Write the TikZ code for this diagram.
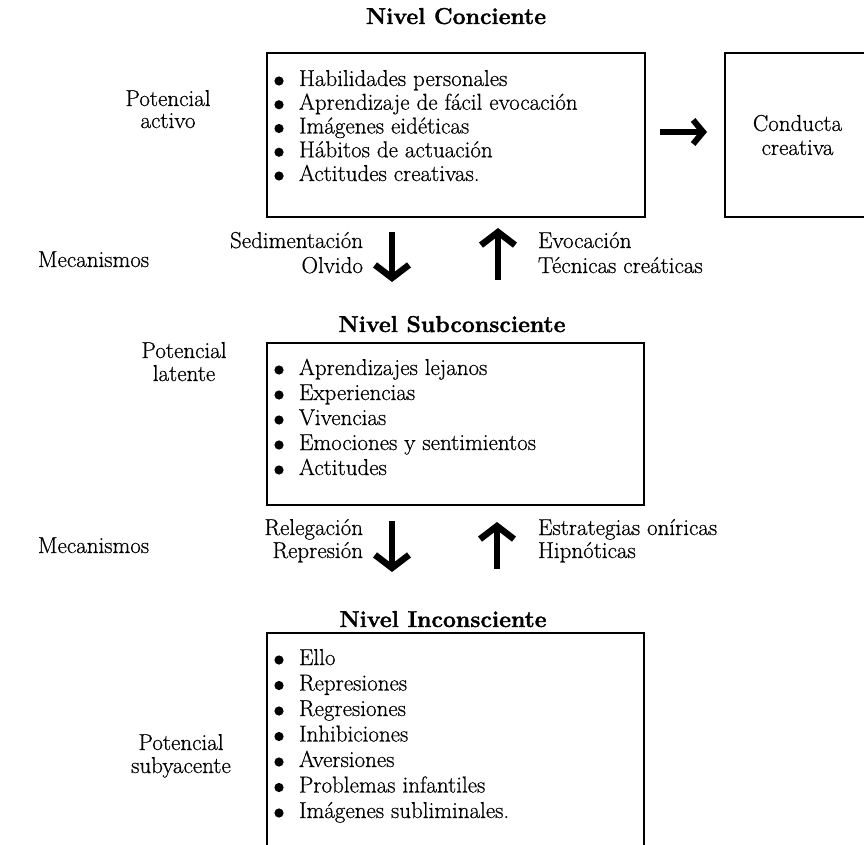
\documentclass[tikz,border=0pt]{standalone}
\usepackage{fontspec}
\setmainfont{Latin Modern Roman}[UprightFeatures={FakeBold=0.6}, BoldFeatures={FakeBold=1.4}]
\usetikzlibrary{arrows.meta}
\begin{document}
\begin{tikzpicture}[x=1pt, y=-1pt,
  every node/.style={inner sep=0pt, outer sep=0pt, font=\fontsize{23}{24}\selectfont},
  panel/.style={draw, line width=2.6pt, anchor=north west},
  level/.style={font=\fontsize{23}{24}\selectfont\bfseries, anchor=base},
  item/.style={anchor=base west},
  side/.style={anchor=base},
  bigarrow/.style={line width=6.5pt, -{Straight Barb[length=13pt, width=34pt]}},
  dot/.style={radius=4.6pt}
]
\clip (0,0) rectangle (864,845);
\fill[white] (0,0) rectangle (864,845);

% ---- Nivel Conciente ----
\node[level] (t1) at (456,24) {Nivel Conciente};
\node[panel, minimum width=378pt, minimum height=164pt] (b1) at (267,53) {};
\foreach \t [count=\i] in {Habilidades personales, Aprendizaje de fácil evocación,
    Imágenes eidéticas, Hábitos de actuación, Actitudes creativas.} {
  \node[item] (ca\i) at (299,{62.25+23.75*\i}) {\t};
  \fill (279,{57.25+23.75*\i}) circle[dot];
}
\node[side] (p1a) at (168,106) {Potencial};
\node[side] (p1b) at (168,128) {activo};

\node[panel, minimum width=145pt, minimum height=164pt, align=center] (cc) at (725,53)
  {Conducta\\creativa};
\coordinate (r1s) at (660,132);
\coordinate (r1e) at (707,132);
\draw[line width=6pt, -{Straight Barb[length=10pt, width=24pt]}] (r1s) -- (r1e);

% ---- mecanismos entre conciente y subconsciente ----
\node[anchor=base west] (m1) at (38,267) {Mecanismos};
\node[anchor=base east] (s1a) at (363,248) {Sedimentación};
\node[anchor=base east] (s1b) at (363,273) {Olvido};
\coordinate (d1s) at (392,232);
\coordinate (d1e) at (392,282);
\draw[bigarrow] (d1s) -- (d1e);
\coordinate (u1s) at (498,280);
\coordinate (u1e) at (498,228);
\draw[bigarrow] (u1s) -- (u1e);
\node[anchor=base west] (e1a) at (538,248) {Evocación};
\node[anchor=base west] (e1b) at (538,273) {Técnicas creáticas};

% ---- Nivel Subconsciente ----
\node[level] (t2) at (452,332) {Nivel Subconsciente};
\node[panel, minimum width=377pt, minimum height=162pt] (b2) at (267,343) {};
\foreach \t [count=\i] in {Aprendizajes lejanos, Experiencias, Vivencias,
    Emociones y sentimientos, Actitudes} {
  \node[item] (sa\i) at (299,{350+25*\i}) {\t};
  \fill (279,{345+25*\i}) circle[dot];
}
\node[side] (p2a) at (184,358) {Potencial};
\node[side] (p2b) at (184,381) {latente};

% ---- mecanismos entre subconsciente e inconsciente ----
\node[anchor=base west] (m2) at (38,553) {Mecanismos};
\node[anchor=base east] (s2a) at (363,535) {Relegación};
\node[anchor=base east] (s2b) at (363,558) {Represión};
\coordinate (d2s) at (392,521);
\coordinate (d2e) at (392,572);
\draw[bigarrow] (d2s) -- (d2e);
\coordinate (u2s) at (497,569);
\coordinate (u2e) at (497,522);
\draw[bigarrow] (u2s) -- (u2e);
\node[anchor=base west] (e2a) at (538,535) {Estrategias oníricas};
\node[anchor=base west] (e2b) at (538,558) {Hipnóticas};

% ---- Nivel Inconsciente ----
\node[level] (t3) at (443,627) {Nivel Inconsciente};
\node[panel, minimum width=377pt, minimum height=240pt] (b3) at (267,633) {};
\foreach \t [count=\i] in {Ello, Represiones, Regresiones, Inhibiciones, Aversiones,
    Problemas infantiles, Imágenes subliminales.} {
  \node[item] (ia\i) at (299,{639.5+25.5*\i}) {\t};
  \fill (279,{634.5+25.5*\i}) circle[dot];
}
\node[side] (p3a) at (181,750) {Potencial};
\node[side] (p3b) at (181,773) {subyacente};
\end{tikzpicture}
\end{document}
